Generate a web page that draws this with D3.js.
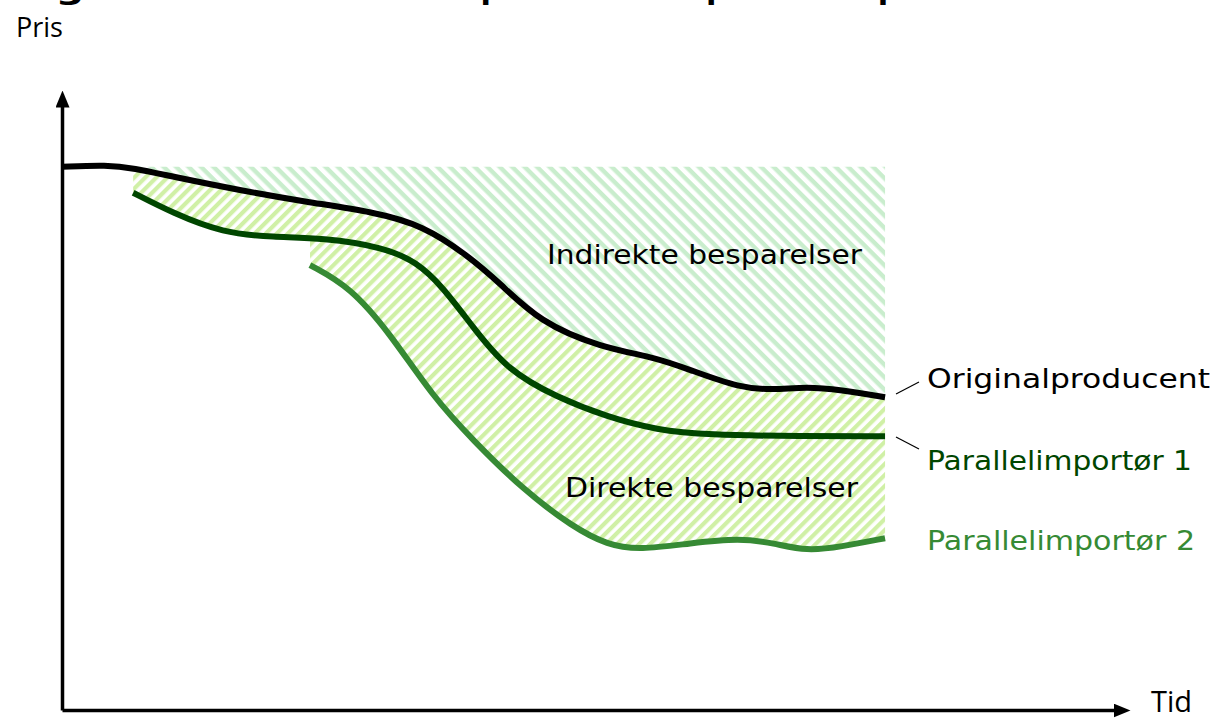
<!DOCTYPE html>
<html>
<head>
<meta charset="utf-8">
<script src="https://cdn.jsdelivr.net/npm/d3@7"></script>
<style>
body { margin: 0; background: #fff; }
</style>
</head>
<body>
<svg width="1214" height="721"></svg>
<script>
const width = 1214
const height = 721

const titleParts = ["Figur 1: Indirekte ", "besparelser ved parallelimport"]
const yLabel = "Pris"
const xLabel = "Tid"
const seriesNames = ["Originalproducent", "Parallelimportør 1", "Parallelimportør 2"]
const areaNames = ["Indirekte besparelser", "Direkte besparelser"]

// time runs 0-100 along the x axis, price 0-100 up the y axis
const originalT = [0, 4.2, 6.6, 10.3, 16.5, 22.7, 28.9, 33.5, 37.6, 40.6, 44.3, 49.9, 55.2, 58.3, 62.9, 66.0, 69.1, 72.2, 76.35]
const originalP = [87.9, 88.2, 87.7, 86.3, 84.1, 82.2, 80.6, 78.4, 73.6, 69.1, 62.8, 58.7, 57.0, 55.0, 52.1, 51.8, 52.3, 51.8, 50.6]

const import1T = [6.6, 10.3, 14.9, 19.6, 24.2, 29.8, 32.9, 35.3, 38.1, 41.3, 45.9, 50.6, 55.2, 59.8, 68.5, 76.35]
const import1P = [83.7, 80.4, 77.2, 76.5, 76.4, 74.9, 72.5, 68.5, 62.0, 55.0, 50.6, 47.4, 45.3, 44.5, 44.3, 44.3]

const import2T = [23.0, 26.7, 30.4, 34.4, 38.1, 42.8, 47.4, 50.6, 53.6, 58.3, 62.9, 66.0, 69.1, 72.2, 76.35]
const import2P = [72.0, 68.5, 61.0, 50.7, 43.7, 35.6, 29.6, 26.7, 25.9, 27.0, 27.8, 27.0, 25.7, 26.4, 27.8]

const hatchTop = 87.9

const svg = d3.select("svg")

const x = d3.scaleLinear().domain([0, 100]).range([62, 1140])
const y = d3.scaleLinear().domain([0, 100]).range([710, 92])

const pts = (ts, ps) => ts.map((t, i) => [t, ps[i]])
const original = pts(originalT, originalP)
const import1 = pts(import1T, import1P)
const import2 = pts(import2T, import2P)

const line = d3.line()
	.x(d => x(d[0]))
	.y(d => y(d[1]))
	.curve(d3.curveBasis)

// join several curves into one closed outline
function outline(parts) {
	return parts.map((p, i) => {
		var s = (p.length > 2) ? line(p) : "M" + x(p[0][0]) + "," + y(p[0][1]) + "L" + x(p[1][0]) + "," + y(p[1][1])
		return i == 0 ? s : "L" + s.slice(1)
	}).join("") + "Z"
}

const defs = svg.append("defs")

function hatch(id, size, stripe, angle, color) {
	var p = defs.append("pattern")
		.attr("id", id)
		.attr("patternUnits", "userSpaceOnUse")
		.attr("width", size)
		.attr("height", size)
		.attr("patternTransform", "rotate(" + angle + ")")
	p.append("rect").attr("width", size).attr("height", stripe).attr("fill", color)
}
hatch("hatchUpper", 8.8, 4.4, 45, "#c9edcd")
hatch("hatchLower", 7.8, 4.2, -45, "#d0f0a6")

defs.append("marker")
	.attr("id", "arrow")
	.attr("viewBox", "0 -7 17 14")
	.attr("markerUnits", "userSpaceOnUse")
	.attr("markerWidth", 17)
	.attr("markerHeight", 14)
	.attr("refX", 9)
	.attr("refY", 0)
	.attr("orient", "auto")
	.append("path")
	.attr("d", "M0,-7L17,0L0,7Z")
	.attr("fill", "#000")

defs.append("clipPath").attr("id", "afterImport2")
	.append("rect")
	.attr("x", x(import2T[0]))
	.attr("y", 0)
	.attr("width", width)
	.attr("height", height)

// indirect savings: above the original price
var last = original[original.length - 1]
svg.append("path")
	.attr("d", outline([
		[[original[2][0], hatchTop], [last[0], hatchTop]],
		original.slice(2).reverse()
	]))
	.attr("fill", "url(#hatchUpper)")

// direct savings: between original and the importers
svg.append("path")
	.attr("d", outline([original.slice(2), import1.slice().reverse()]))
	.attr("fill", "url(#hatchLower)")
svg.append("path")
	.attr("d", outline([import1, import2.slice().reverse()]))
	.attr("fill", "url(#hatchLower)")
	.attr("clip-path", "url(#afterImport2)")

// axes with arrow heads
var axisX = d3.scaleLinear().range([62, 1122])
var axisY = d3.scaleLinear().range([710, 98])

svg.append("g")
	.attr("transform", "translate(0," + 710 + ")")
	.call(d3.axisBottom(axisX).tickValues([]).tickSizeOuter(0))
	.select(".domain")
	.attr("stroke", "#000")
	.attr("stroke-width", 3.5)
	.attr("marker-end", "url(#arrow)")

svg.append("g")
	.attr("transform", "translate(" + 62 + ",0)")
	.call(d3.axisLeft(axisY).tickValues([]).tickSizeOuter(0))
	.select(".domain")
	.attr("stroke", "#000")
	.attr("stroke-width", 3.5)
	.attr("marker-end", "url(#arrow)")

// price lines
const colors = ["#000000", "#004600", "#368a34"]
;[original, import1, import2].forEach((d, i) => {
	svg.append("path")
		.attr("d", line(d))
		.attr("fill", "none")
		.attr("stroke", colors[i])
		.attr("stroke-width", 6)
})

// texts
const labelFont = "'DejaVu Sans', sans-serif"

// title sits mostly above the top edge, as in the source
;[[14, 400], [420, 530]].forEach((pos, i) => {
	svg.append("text")
		.attr("x", pos[0]).attr("y", -1)
		.attr("font-family", labelFont)
		.attr("font-weight", "bold")
		.attr("font-size", 30)
		.attr("textLength", pos[1])
		.attr("lengthAdjust", "spacingAndGlyphs")
		.text(titleParts[i])
})

svg.append("text")
	.attr("x", 16).attr("y", 37)
	.attr("font-family", "'Open Sans', sans-serif")
	.attr("font-size", 27)
	.text(yLabel)

svg.append("text")
	.attr("x", 1151).attr("y", 712)
	.attr("font-family", "'Open Sans', sans-serif")
	.attr("font-size", 29)
	.text(xLabel)

function label(txt, px, py, len, color) {
	svg.append("text")
		.attr("x", px).attr("y", py)
		.attr("font-family", labelFont)
		.attr("font-size", 26)
		.attr("fill", color)
		.attr("textLength", len)
		.attr("lengthAdjust", "spacingAndGlyphs")
		.text(txt)
}

label(areaNames[0], 547, 264, 315, "#000")
label(areaNames[1], 565, 497, 293, "#000")
label(seriesNames[0], 927, 388, 283, "#000")
label(seriesNames[1], 927, 470, 265, colors[1])
label(seriesNames[2], 927, 550, 268, colors[2])

// leader lines from the line ends to their names
svg.append("line").attr("x1", 896).attr("y1", 394).attr("x2", 919).attr("y2", 382)
	.attr("stroke", "#000").attr("stroke-width", 1.2)
svg.append("line").attr("x1", 896).attr("y1", 437).attr("x2", 919).attr("y2", 449)
	.attr("stroke", "#000").attr("stroke-width", 1.2)
</script>
</body>
</html>
